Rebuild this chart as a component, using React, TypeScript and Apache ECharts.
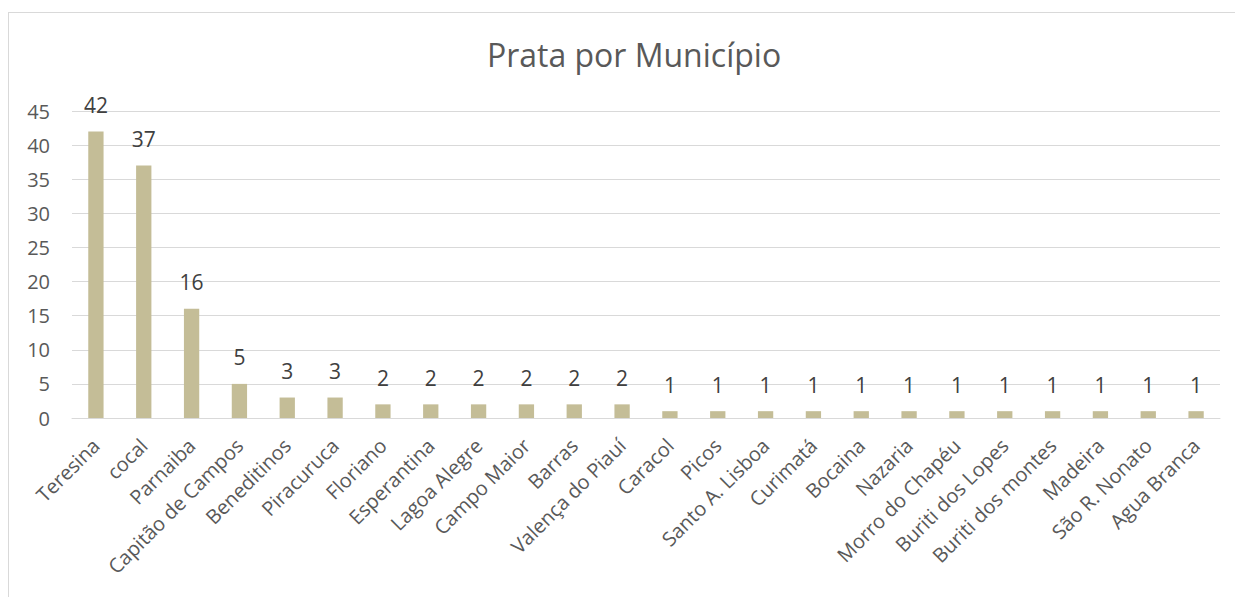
import React, { useEffect, useRef } from "react";
import * as echarts from "echarts";

const categories = [
  "Teresina", "cocal", "Parnaiba", "Capitão de Campos", "Beneditinos", "Piracuruca",
  "Floriano", "Esperantina", "Lagoa Alegre", "Campo Maior", "Barras", "Valença do Piauí",
  "Caracol", "Picos", "Santo A. Lisboa", "Curimatá", "Bocaina", "Nazaria",
  "Morro do Chapéu", "Buriti dos Lopes", "Buriti dos montes", "Madeira", "São R. Nonato", "Agua Branca",
];
const values = [42, 37, 16, 5, 3, 3, 2, 2, 2, 2, 2, 2, 1, 1, 1, 1, 1, 1, 1, 1, 1, 1, 1, 1];
const titleText = "Prata por Município";

export default function App() {
  const ref = useRef<HTMLDivElement>(null);
  useEffect(() => {
    document.documentElement.style.overflow = "hidden";
    document.body.style.overflow = "hidden";
    const chart = echarts.init(ref.current!, null, { renderer: "svg" });
    const font = "'Open Sans', 'Liberation Sans', sans-serif";
    chart.setOption({
      animation: false,
      title: {
        text: titleText,
        left: 620,
        textAlign: "center",
        top: 20,
        textStyle: { fontFamily: font, fontSize: 32, fontWeight: "normal", color: "#595959" },
      },
      grid: { left: 63, right: 15, top: 98, bottom: 179 },
      xAxis: {
        type: "category",
        data: categories,
        axisLine: { lineStyle: { color: "#d9d9d9" } },
        axisTick: { show: false },
        axisLabel: {
          rotate: 45,
          interval: 0,
          margin: 24,
          color: "#595959",
          fontFamily: font,
          fontSize: 20,
        },
      },
      yAxis: {
        type: "value",
        min: 0,
        max: 45,
        interval: 5,
        axisLine: { show: false },
        axisTick: { show: false },
        splitLine: { lineStyle: { color: "#d9d9d9" } },
        axisLabel: { color: "#595959", fontFamily: font, fontSize: 20, margin: 22 },
      },
      series: [
        {
          type: "bar",
          data: values,
          barWidth: "32%",
          itemStyle: { color: "#C4BD97" },
          label: {
            show: true,
            position: "top",
            distance: 16,
            color: "#404040",
            fontFamily: font,
            fontSize: 21,
          },
        },
      ],
    });
    return () => chart.dispose();
  }, []);
  return (
    <div
      ref={ref}
      style={{
        position: "absolute",
        left: 8,
        top: 12,
        width: 1227,
        height: 585,
        boxSizing: "border-box",
        borderLeft: "1px solid #d9d9d9",
        borderTop: "1px solid #d9d9d9",
      }}
    />
  );
}
